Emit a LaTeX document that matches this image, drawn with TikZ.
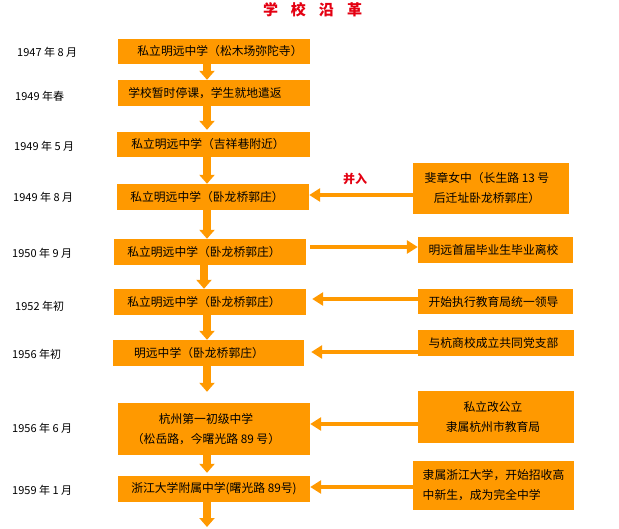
\documentclass[tikz,border=0pt]{standalone}
\usepackage{fontspec}
\setmainfont{Noto Sans CJK SC}
\usetikzlibrary{arrows.meta}
\definecolor{boxorange}{RGB}{255,153,0}
\definecolor{titlered}{RGB}{228,0,18}
\newcommand\mypad[1]{\rule{#1}{0pt}}
\begin{document}
\begin{tikzpicture}[x=1pt,y=-1pt,
  box/.style={fill=boxorange, draw=none, inner sep=0pt, align=center, font=\fontsize{11.8}{20}\selectfont},
  datelabel/.style={anchor=west, inner sep=0pt, font=\fontsize{11}{12}\selectfont},
  varrow/.style={draw=boxorange, line width=8pt, -{Triangle[width=15pt,length=9pt]}},
  harrow/.style={draw=boxorange, line width=4.5pt, -{Triangle[width=13pt,length=11pt]}},
]
\fill[white] (0,0) rectangle (619,528);
\useasboundingbox (0,0) rectangle (619,528);

% title
\node[text=titlered, font=\fontsize{15}{16}\selectfont\bfseries, inner sep=0pt] (title) at (312.5,10)
  {学\hspace{13pt}校\hspace{13pt}沿\hspace{13pt}革};

% main column
\node[box, minimum width=192pt, minimum height=25pt] (B1) at (214,51.5) {\mypad{12pt}私立明远中学（松木场弥陀寺）};
\node[box, minimum width=192pt, minimum height=26pt] (B2) at (214,93) {学校暂时停课，学生就地遣返\mypad{18pt}};
\node[box, minimum width=193pt, minimum height=25pt] (B3) at (213.5,144.5) {私立明远中学（吉祥巷附近）\mypad{11pt}};
\node[box, minimum width=192pt, minimum height=26pt] (B4) at (213,197) {私立明远中学（卧龙桥郭庄）\mypad{12pt}};
\node[box, minimum width=192pt, minimum height=26pt] (B5) at (210,252) {私立明远中学（卧龙桥郭庄）\mypad{12pt}};
\node[box, minimum width=192pt, minimum height=26pt] (B6) at (210,302) {私立明远中学（卧龙桥郭庄）\mypad{12pt}};
\node[box, minimum width=191pt, minimum height=26pt] (B7) at (208.5,353) {明远中学（卧龙桥郭庄）\mypad{19pt}};
\node[box, minimum width=192pt, minimum height=52pt] (B8) at (214,429) {杭州第一初级中学\mypad{16pt}\\（松岳路，今曙光路 89 号）\mypad{16pt}};
\node[box, minimum width=192pt, minimum height=26pt] (B9) at (214,489) {浙江大学附属中学(曙光路 89号)};

% right column
\node[box, minimum width=156pt, minimum height=51pt] (R1) at (491,188.5) {斐章女中（长生路 13 号\mypad{8pt}\\后迁址卧龙桥郭庄）\mypad{8pt}};
\node[box, minimum width=155pt, minimum height=26pt] (R2) at (495.5,250) {明远首届毕业生毕业离校\mypad{4pt}};
\node[box, minimum width=155pt, minimum height=25pt] (R3) at (495.5,301.5) {开始执行教育局统一领导\mypad{4pt}};
\node[box, minimum width=156pt, minimum height=26pt] (R4) at (496,343) {与杭商校成立共同党支部\mypad{5pt}};
\node[box, minimum width=156pt, minimum height=52pt] (R5) at (496,417) {私立改公立\mypad{6pt}\\隶属杭州市教育局\mypad{6pt}};
\node[box, minimum width=161pt, minimum height=49pt, align=left] (R6) at (493.5,485.5) {隶属浙江大学，开始招收高\\中新生，成为完全中学};

% dates
\node[datelabel] (D1) at (17,52) {1947 年 8 月};
\node[datelabel] (D2) at (15,96) {1949 年春};
\node[datelabel] (D3) at (14,146) {1949 年 5 月};
\node[datelabel] (D4) at (13,197) {1949 年 8 月};
\node[datelabel] (D5) at (12,253) {1950 年 9 月};
\node[datelabel] (D6) at (15,306) {1952 年初};
\node[datelabel] (D7) at (12,354) {1956 年初};
\node[datelabel] (D8) at (12,428) {1956 年 6 月};
\node[datelabel] (D9) at (12,490) {1959 年 1 月};

% merge label
\node[text=titlered, font=\fontsize{12}{13}\selectfont\bfseries, inner sep=0pt] (merge) at (355,179) {并入};

% vertical arrows
\coordinate (sp) at (207,0);
\coordinate (spb) at (204,0);
\coordinate (tail) at (207,527);
\draw[varrow] (B1.south -| sp) -- (B2.north -| sp);
\draw[varrow, shorten >=2pt] (B2.south -| sp) -- (B3.north -| sp);
\draw[varrow] (B3.south -| sp) -- (B4.north -| sp);
\draw[varrow] (B4.south -| sp) -- (B5.north -| sp);
\draw[varrow] (B5.south -| spb) -- (B6.north -| spb);
\draw[varrow] (B6.south -| sp) -- (B7.north -| sp);
\draw[varrow, shorten >=11pt] (B7.south -| sp) -- (B8.north -| sp);
\draw[varrow, shorten >=3pt] (B8.south -| sp) -- (B9.north -| sp);
\draw[varrow] (B9.south -| sp) -- (tail);

% horizontal arrows
\draw[harrow] (R1.west |- 0,195) -- (B4.east |- 0,195);
\draw[harrow, shorten <=4pt] (B5.east |- 0,247) -- (R2.west |- 0,247);
\draw[harrow, shorten >=6pt] (R3.west |- 0,299) -- (B6.east |- 0,299);
\draw[harrow, shorten >=7pt] (R4.west |- 0,352) -- (B7.east |- 0,352);
\draw[harrow] (R5.west |- 0,424) -- (B8.east |- 0,424);
\draw[harrow] (R6.west |- 0,487) -- (B9.east |- 0,487);
\end{tikzpicture}
\end{document}
